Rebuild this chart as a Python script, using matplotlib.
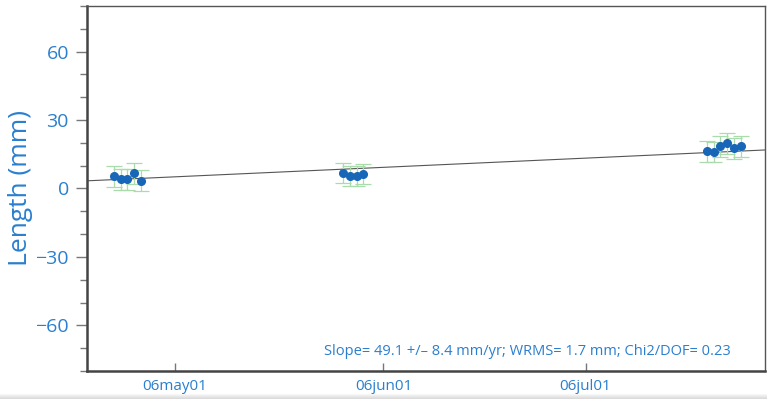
import numpy as np
import pandas as pd
import matplotlib
matplotlib.use('Agg')
import matplotlib.pyplot as plt
import matplotlib.dates as mdates

BLUE_TEXT = '#2a7fcf'
POINT_COLOR = '#1766b8'
ERR_COLOR = '#a9dcaa'

# daily baseline length solutions (mm) with 1-sigma errors
dates = ['2006-04-22', '2006-04-23', '2006-04-24', '2006-04-25', '2006-04-26',
         '2006-05-26', '2006-05-27', '2006-05-28', '2006-05-29',
         '2006-07-19', '2006-07-20', '2006-07-21', '2006-07-22', '2006-07-23', '2006-07-24']
length_mm = [5.3, 4.0, 4.0, 6.6, 3.5,
             6.7, 5.5, 5.5, 6.3,
             16.3, 15.9, 18.5, 19.8, 17.6, 18.5]
sigma_mm = [4.5, 4.5, 4.5, 4.5, 4.5,
            4.5, 4.5, 4.5, 4.5,
            4.5, 4.5, 4.5, 4.5, 4.5, 4.5]

slope_mm_yr = 49.1
slope_err = 8.4
wrms = 1.7
chi2_dof = 0.23
ref_date = '2006-05-27'
ref_value = 8.6

x_range = ['2006-04-18 00:00', '2006-07-27 15:00']

t = pd.to_datetime(dates)

def fit_line(days):
    ref = pd.Timestamp(ref_date)
    return ref_value + slope_mm_yr / 365.25 * ((days - ref) / pd.Timedelta(days=1))

def fmt_date(x, pos=None):
    d = mdates.num2date(x)
    return f"{d:%y}{d:%b}".lower() + f"{d:%d}"

def main() -> None:
    plt.rcParams['font.family'] = ['Open Sans', 'DejaVu Sans']
    fig = plt.figure(figsize=(7.67, 3.99), dpi=100)

    # faint grey strip along the bottom edge
    strip = fig.add_axes([0, 0, 1, 0.012])
    strip.imshow(np.linspace(0.97, 0.85, 8).reshape(-1, 1), cmap='gray', vmin=0, vmax=1,
                 aspect='auto', extent=[0, 1, 0, 1])
    strip.axis('off')

    ax = fig.add_axes([0.1134, 0.0702, 0.8840, 0.9148])

    lx = pd.to_datetime(x_range)
    ax.plot(lx, fit_line(lx), color='#555555', lw=0.8, zorder=2)

    ax.errorbar(t, length_mm, yerr=sigma_mm, fmt='none', ecolor=ERR_COLOR,
                elinewidth=0.9, capsize=6, capthick=0.9, zorder=3)
    ax.plot(t, length_mm, 'o', color=POINT_COLOR, ms=5.5, zorder=4)

    ax.set_xlim(lx[0], lx[1])
    ax.set_ylim(-80, 80)
    ax.set_yticks([-60, -30, 0, 30, 60])
    ax.set_yticklabels(['\u221260', '\u221230', '0', '30', '60'])
    ax.yaxis.set_minor_locator(matplotlib.ticker.MultipleLocator(10))
    ax.xaxis.set_major_locator(mdates.MonthLocator(bymonthday=1))
    ax.xaxis.set_major_formatter(matplotlib.ticker.FuncFormatter(fmt_date))

    ax.tick_params(axis='y', which='major', direction='out', length=8, width=1,
                   color='#777777', labelcolor=BLUE_TEXT, labelsize=14, pad=5)
    ax.tick_params(axis='y', which='minor', direction='out', length=5, width=1,
                   color='#777777')
    ax.tick_params(axis='x', which='major', direction='in', length=6, width=1,
                   color='#777777', labelcolor=BLUE_TEXT, labelsize=11, pad=6)

    for side in ['left', 'bottom']:
        ax.spines[side].set_linewidth(1.8)
        ax.spines[side].set_color('#444444')
    for side in ['top', 'right']:
        ax.spines[side].set_linewidth(1.0)
        ax.spines[side].set_color('#555555')

    ax.set_ylabel('Length (mm)', color=BLUE_TEXT, fontsize=19, labelpad=2)

    ax.text(0.95, 0.053,
            f'Slope= {slope_mm_yr} +/\u2013 {slope_err} mm/yr; WRMS= {wrms} mm; Chi2/DOF= {chi2_dof}',
            transform=ax.transAxes, ha='right', va='center', color=BLUE_TEXT, fontsize=10.5)

    fig.savefig('out.png', dpi=100)

if __name__ == '__main__':
    main()
